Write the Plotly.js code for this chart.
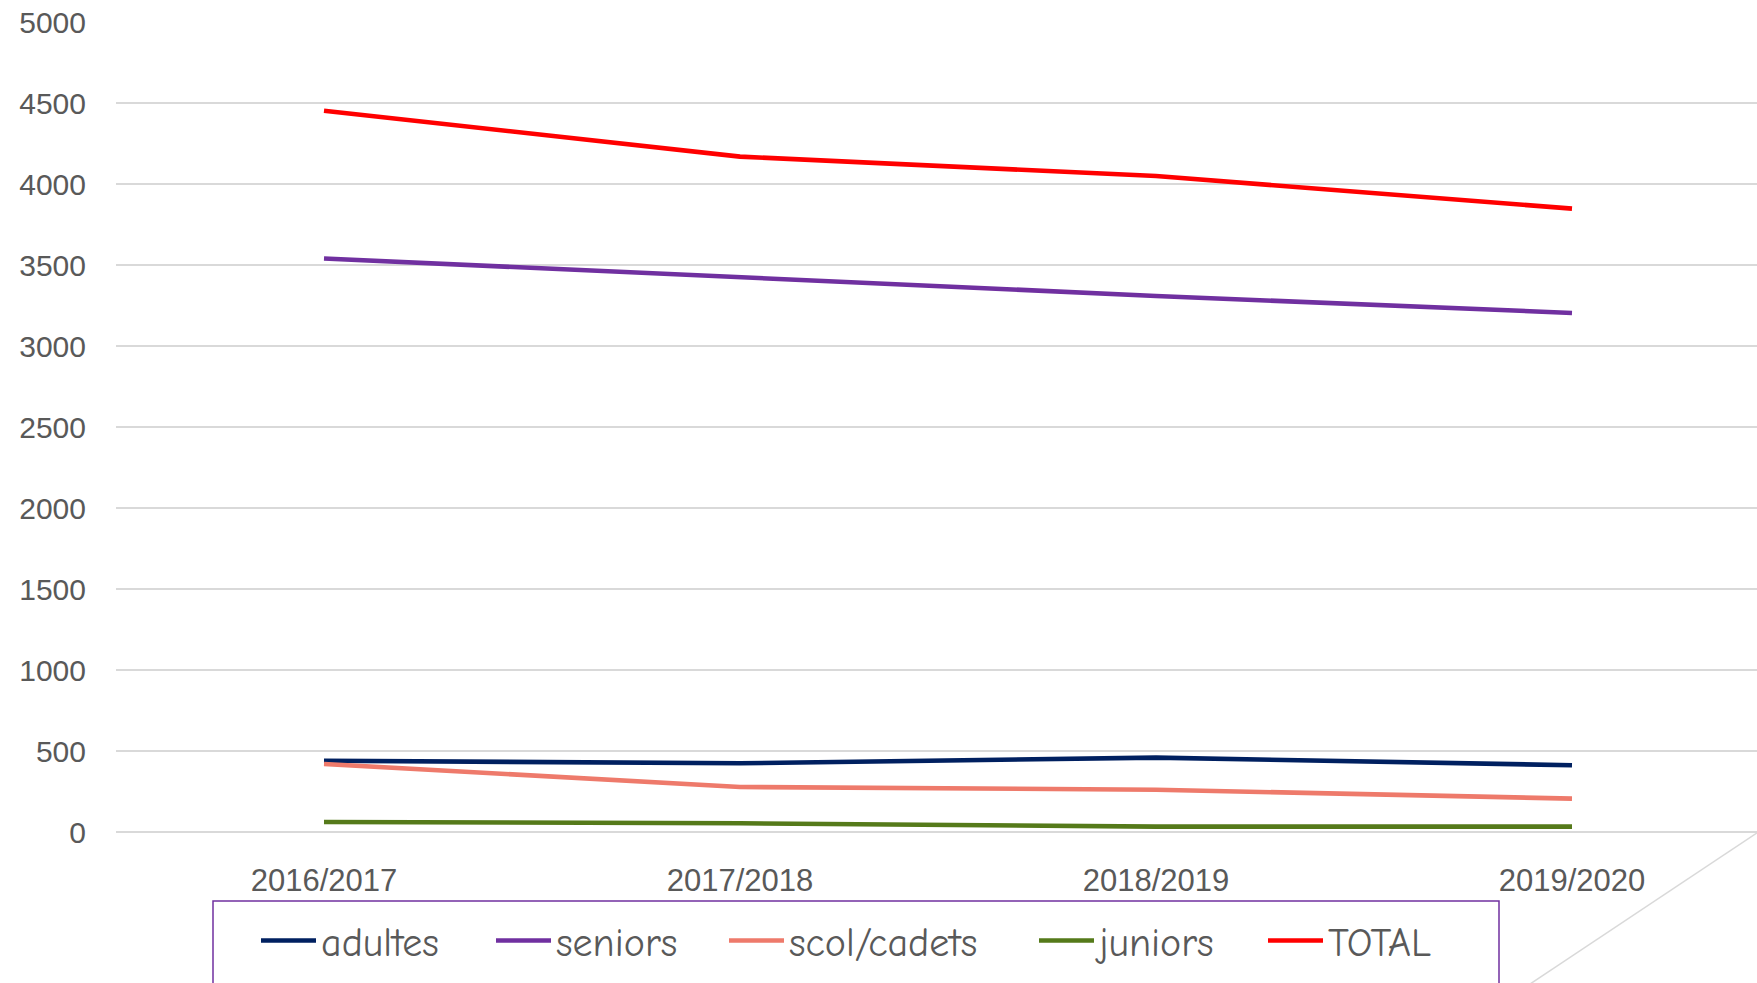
<!DOCTYPE html>
<html>
<head>
<meta charset="utf-8">
<script src="https://cdn.plot.ly/plotly-3.0.1.min.js"></script>
<style>
html,body{margin:0;padding:0;overflow:hidden;background:#fff;}
#chart{width:1800px;height:983px;}
</style>
</head>
<body>
<div id="chart"></div>
<script>
const seasons = ["2016/2017", "2017/2018", "2018/2019", "2019/2020"];
const adultes = [440, 424, 459, 412];
const seniors = [3540, 3425, 3309, 3204];
const scolCadets = [420, 278, 261, 206];
const juniors = [62, 54, 33, 33];
const total = [4452, 4169, 4049, 3848];

const seriesNames = ["adultes", "seniors", "scol/cadets", "juniors", "TOTAL"];
const seriesValues = [adultes, seniors, scolCadets, juniors, total];
const seriesColors = ["#002060", "#7030A0", "#EE7A6B", "#557A1A", "#FF0000"];
const legendIds = ["legend", "legend2", "legend3", "legend4", "legend5"];
const legendLeft = [256, 491, 724, 1034, 1263];

const traces = seriesNames.map((n, i) => ({
  type: "scatter",
  mode: "lines",
  name: n,
  legend: legendIds[i],
  x: seasons,
  y: seriesValues[i],
  line: {color: seriesColors[i], width: 4.6, shape: "linear"},
  hoverinfo: "x+y+name"
}));

const W = 1800, H = 983, L = 116, R = 20, T = 22, B = 151;
const pw = W - L - R, ph = H - T - B;
const px = v => (v - L) / pw;
const py = v => (H - B - v) / ph;

const layout = {
  width: W, height: H,
  margin: {l: L, r: R, t: T, b: B},
  paper_bgcolor: "#ffffff",
  plot_bgcolor: "#ffffff",
  showlegend: true,
  xaxis: {
    type: "category",
    range: [-0.5, 3.5],
    showgrid: false,
    zeroline: false,
    showline: false,
    ticks: "outside", ticklen: 21, tickcolor: "rgba(0,0,0,0)",
    tickfont: {family: "Liberation Sans, Arial, sans-serif", size: 31, color: "#595959"},
    fixedrange: true
  },
  yaxis: {
    range: [0, 5000],
    tickvals: [0, 500, 1000, 1500, 2000, 2500, 3000, 3500, 4000, 4500, 5000],
    ticktext: ["0", "500", "1000", "1500", "2000", "2500", "3000", "3500", "4000", "4500", "5000"],
    showgrid: true, gridcolor: "#D9D9D9", gridwidth: 1.5,
    zeroline: true, zerolinecolor: "#D9D9D9", zerolinewidth: 1.5,
    showline: false,
    ticks: "outside", ticklen: 23, tickcolor: "rgba(0,0,0,0)",
    tickfont: {family: "Liberation Sans, Arial, sans-serif", size: 30, color: "#595959"},
    fixedrange: true
  },
  shapes: [
    {type: "rect", xref: "paper", yref: "paper",
     x0: px(213), x1: px(1499), y0: py(1010), y1: py(901),
     line: {color: "#7030A0", width: 1.5}, fillcolor: "rgba(0,0,0,0)", layer: "below"},
    {type: "line", xref: "paper", yref: "paper",
     x0: px(1500), y0: py(1004), x1: px(1790), y1: py(811),
     line: {color: "#D9D9D9", width: 1.5}}
  ]
};

legendIds.forEach((id, i) => {
  layout[id] = {
    orientation: "h",
    xref: "container", yref: "container",
    x: legendLeft[i] / W, y: 1 - 908 / H,
    xanchor: "left", yanchor: "top",
    itemwidth: 55,
    font: {family: "Comic Sans MS, 'Comic Neue', 'Open Sans', sans-serif", size: 40, color: "#595959"},
    bgcolor: "rgba(0,0,0,0)",
    borderwidth: 0
  };
});

Plotly.newPlot("chart", traces, layout, {displayModeBar: false, staticPlot: true});
</script>
</body>
</html>
